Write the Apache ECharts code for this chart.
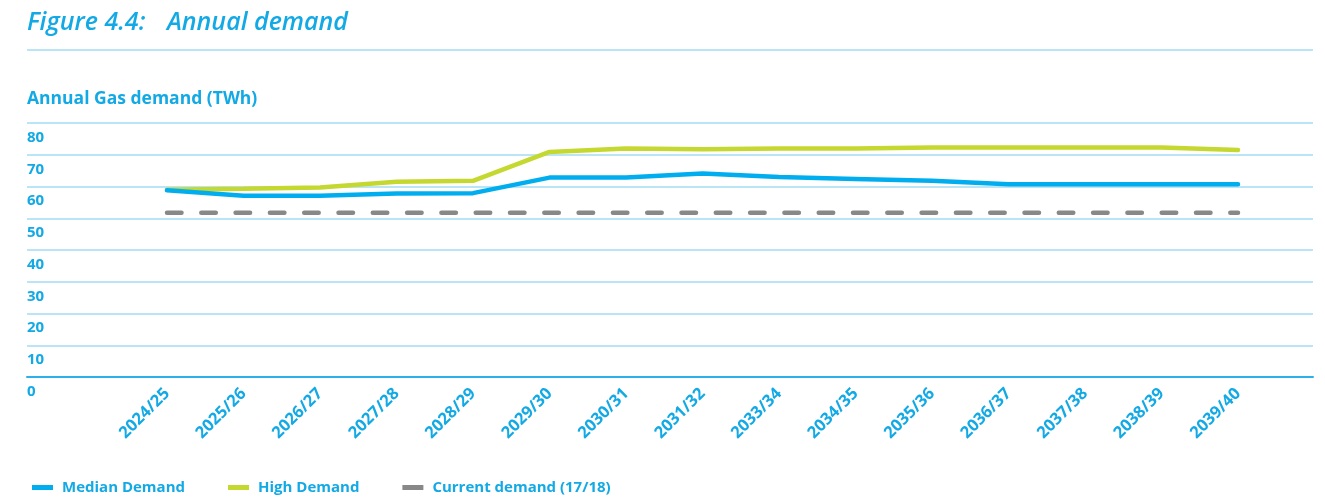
<!DOCTYPE html>
<html><head><meta charset="utf-8">
<script src="https://cdn.jsdelivr.net/npm/echarts@6/dist/echarts.min.js"></script>
<style>html,body{margin:0;padding:0;background:#fff}#c{width:1325px;height:500px}</style>
</head><body><div id="c"></div>
<script>
const categories = ['2024/25','2025/26','2026/27','2027/28','2028/29','2029/30','2030/31','2031/32','2033/34','2034/35','2035/36','2036/37','2037/38','2038/39','2039/40'];
const medianDemand = [58.8,57.1,57.1,57.8,57.9,62.8,62.8,64.1,63.0,62.4,61.8,60.7,60.7,60.7,60.7];
const highDemand = [59.0,59.3,59.7,61.5,61.8,70.9,72.0,71.7,72.0,72.0,72.3,72.3,72.3,72.3,71.5];
const currentDemand = [51.7,51.7,51.7,51.7,51.7,51.7,51.7,51.7,51.7,51.7,51.7,51.7,51.7,51.7,51.7];
const seriesNames = ['Median Demand','High Demand','Current demand (17/18)'];
const titleParts = ['Figure 4.4:', 'Annual demand'];
const subtitle = 'Annual Gas demand (TWh)';

const BLUE = '#12A9E5';
const GRID = '#A3DDF5';
const FONT = '"Open Sans", sans-serif';

const chart = echarts.init(document.getElementById('c'));
chart.setOption({
  animation: false,
  textStyle: { fontFamily: FONT },
  graphic: [
    { type: 'text', left: 27, top: 10, style: { text: titleParts[0], font: 'italic 600 25px "Open Sans"', fill: BLUE } },
    { type: 'text', left: 167, top: 10, style: { text: titleParts[1], font: 'italic 600 25px "Open Sans"', fill: BLUE } },
    { type: 'line', shape: { x1: 27, y1: 50, x2: 1313, y2: 50 }, style: { stroke: GRID, lineWidth: 1.5 } },
    { type: 'text', left: 27, top: 90, style: { text: subtitle, font: 'bold 17.5px "Open Sans"', fill: BLUE } }
  ],
  legend: {
    left: 27, top: 475,
    itemWidth: 21, itemHeight: 5, itemGap: 43,
    data: seriesNames.map(n => ({ name: n, icon: 'rect' })),
    textStyle: { color: BLUE, fontSize: 15, fontWeight: 'bold', fontFamily: FONT, padding: [0,0,0,4] }
  },
  grid: [
    { left: 27, right: 12, top: 123, bottom: 123 },
    { left: 167, right: 87, top: 123, bottom: 123 }
  ],
  xAxis: [
    { gridIndex: 0, type: 'value', min: 0, max: 1, axisLabel: { show: false }, axisTick: { show: false }, splitLine: { show: false },
      axisLine: { show: true, lineStyle: { color: '#2DB0E8', width: 2 } } },
    { gridIndex: 1, type: 'category', data: categories, boundaryGap: false,
      axisLine: { show: false }, axisTick: { show: false },
      axisLabel: { rotate: 45, margin: 14, color: BLUE, fontSize: 16.5, fontWeight: 'bold', fontFamily: FONT, interval: 0 } }
  ],
  yAxis: [
    { gridIndex: 0, type: 'value', min: 0, max: 80, interval: 10,
      axisLine: { show: false }, axisTick: { show: false },
      splitLine: { show: true, lineStyle: { color: GRID, width: 1.5 } },
      axisLabel: { inside: true, margin: 0, align: 'left', verticalAlign: 'top', padding: [7,0,0,0],
        color: BLUE, fontSize: 15, fontWeight: 'bold', fontFamily: FONT, showMinLabel: true, showMaxLabel: true } },
    { gridIndex: 1, type: 'value', min: 0, max: 80, interval: 10, show: false, splitLine: { show: false } }
  ],
  series: [
    { name: seriesNames[2], type: 'line', xAxisIndex: 1, yAxisIndex: 1, data: currentDemand, symbol: 'none',
      itemStyle: { color: '#888888' },
      lineStyle: { color: '#888888', width: 4.5, type: [14.5, 19.8], cap: 'round' } },
    { name: seriesNames[1], type: 'line', xAxisIndex: 1, yAxisIndex: 1, data: highDemand, symbol: 'none',
      itemStyle: { color: '#C4D82F' },
      lineStyle: { color: '#C4D82F', width: 4.5, cap: 'round' } },
    { name: seriesNames[0], type: 'line', xAxisIndex: 1, yAxisIndex: 1, data: medianDemand, symbol: 'none',
      itemStyle: { color: '#00AEEF' },
      lineStyle: { color: '#00AEEF', width: 4.5, cap: 'round' } }
  ]
});
</script></body></html>
